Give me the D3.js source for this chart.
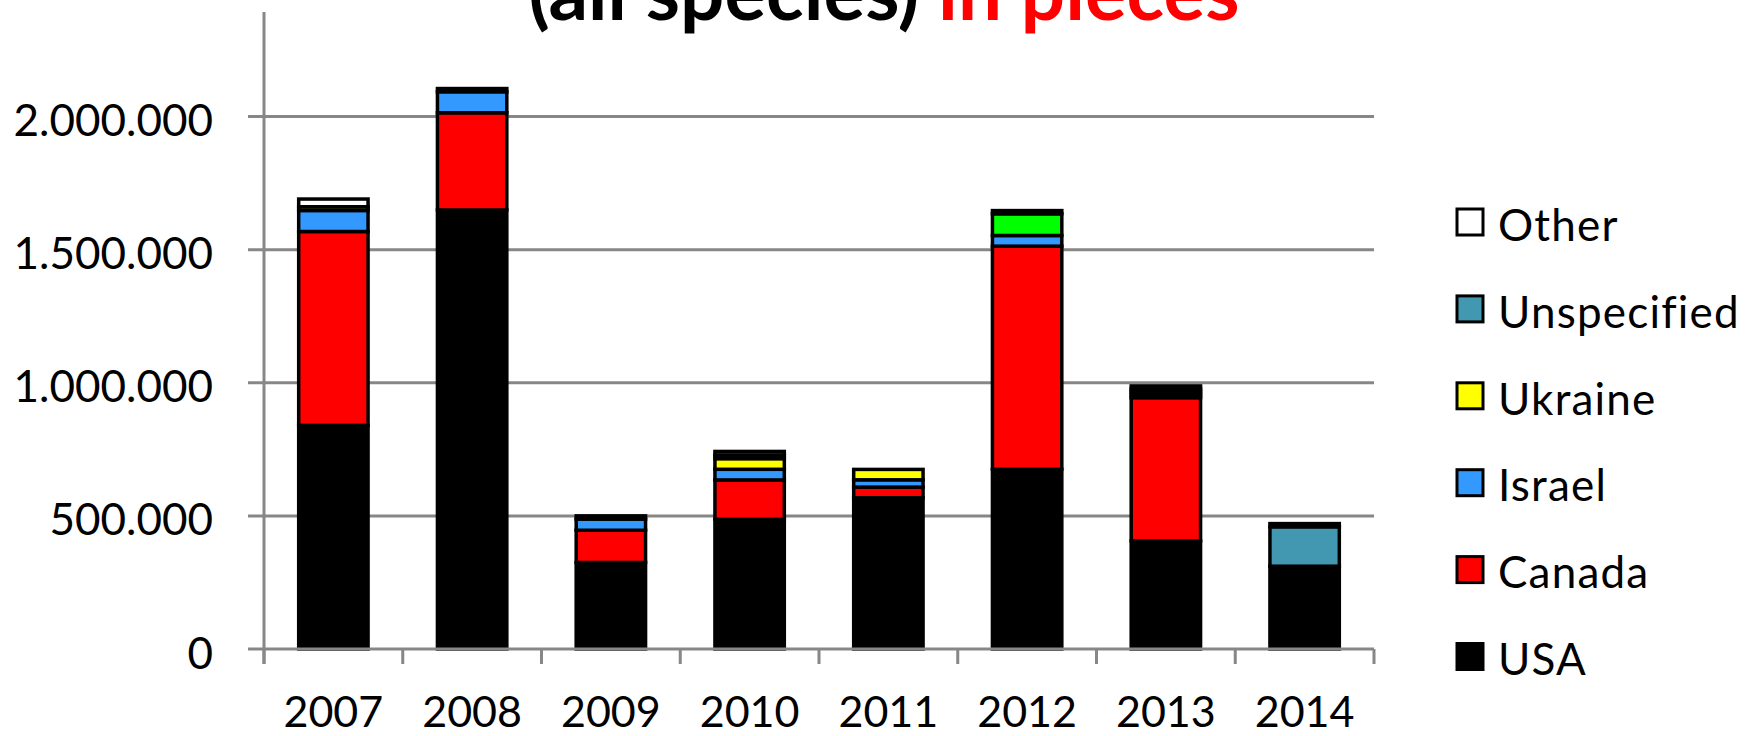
<!DOCTYPE html>
<html>
<head>
<meta charset="utf-8">
<script src="https://cdn.jsdelivr.net/npm/d3@7"></script>
<style>
  html, body { margin: 0; padding: 0; background: #ffffff; }
  svg { display: block; }
  text { font-family: Lato, "Open Sans", sans-serif; }
</style>
</head>
<body>
<svg id="chart" width="1754" height="736"></svg>
<script>
// ---- data (pieces) ----
const years = ["2007", "2008", "2009", "2010", "2011", "2012", "2013", "2014"];
const usa         = [840000, 1649000, 325000, 487000, 568000, 675000, 406000, 311000];
const canada      = [728000,  365000, 121000, 148000,  40000, 838000, 538000,      0];
const israel      = [ 79000,   79000,  42000,  40000,  27500,  40000,  11000,      0];
const ukraine     = [ 14000,       0,      0,  40000,  39000,      0,  11000,      0];
const unlabelled  = [     0,       0,      0,      0,      0,  81600,      0,      0];
const unspecified = [     0,       0,      0,  13500,      0,      0,  11000, 148000];
const other       = [ 29000,   12000,  12000,  13500,      0,  12000,  11000,  12000];
const yTicks = [0, 500000, 1000000, 1500000, 2000000];
const legendNames = ["Other", "Unspecified", "Ukraine", "Israel", "Canada", "USA"];
const titleBlack = "(all species) ";
const titleRed = "in pieces";

const seriesKeys = ["USA", "Canada", "Israel", "Ukraine", "Unlabelled", "Unspecified", "Other"];
const seriesValues = {
  "USA": usa, "Canada": canada, "Israel": israel, "Ukraine": ukraine,
  "Unlabelled": unlabelled, "Unspecified": unspecified, "Other": other
};
const colors = {
  "USA": "#000000", "Canada": "#ff0000", "Israel": "#3399ff", "Ukraine": "#ffff00",
  "Unlabelled": "#00ff00", "Unspecified": "#4298b0", "Other": "#ffffff"
};

const table = years.map((yr, i) => {
  const row = { year: yr };
  seriesKeys.forEach(k => row[k] = seriesValues[k][i]);
  return row;
});

const svg = d3.select("#chart");
const plotLeft = 264, plotRight = 1374, plotBottom = 649, plotTop = 10;

const x = d3.scaleBand().domain(years).range([plotLeft, plotRight]).paddingInner(0.5).paddingOuter(0.25);
const y = d3.scaleLinear().domain([0, 2400000]).range([plotBottom, plotTop]);

const fmt = d3.formatLocale({ decimal: ",", thousands: ".", grouping: [3], currency: ["", ""] }).format(",d");
const gridColor = "#878787";

// gridlines + y ticks
svg.append("g").selectAll("line").data(yTicks.filter(v => v > 0)).join("line")
  .attr("x1", plotLeft - 16).attr("x2", plotRight)
  .attr("y1", d => y(d)).attr("y2", d => y(d))
  .attr("stroke", gridColor).attr("stroke-width", 3);

// bars
const stacked = d3.stack().keys(seriesKeys)(table);
const barG = svg.append("g");
stacked.forEach(layer => {
  barG.append("g").selectAll("rect")
    .data(layer.filter(d => d[1] - d[0] > 0))
    .join("rect")
    .attr("x", d => x(d.data.year))
    .attr("width", x.bandwidth())
    .attr("y", d => y(d[1]))
    .attr("height", d => y(d[0]) - y(d[1]))
    .attr("fill", colors[layer.key])
    .attr("stroke", "#000")
    .attr("stroke-width", 3.5);
});

// y axis line
svg.append("line").attr("x1", plotLeft).attr("x2", plotLeft)
  .attr("y1", y(2400000) + 2).attr("y2", plotBottom + 15)
  .attr("stroke", gridColor).attr("stroke-width", 3);
// zero line with tick
svg.append("line").attr("x1", plotLeft - 16).attr("x2", plotRight)
  .attr("y1", y(0)).attr("y2", y(0))
  .attr("stroke", gridColor).attr("stroke-width", 3);
// x ticks at category boundaries
const bounds = years.map(d => x(d) - x.step() * x.paddingInner() / 2).concat([plotRight]);
svg.append("g").selectAll("line").data(bounds).join("line")
  .attr("x1", d => d).attr("x2", d => d)
  .attr("y1", plotBottom).attr("y2", plotBottom + 15)
  .attr("stroke", gridColor).attr("stroke-width", 3);

// y labels
svg.append("g").selectAll("text").data(yTicks).join("text")
  .attr("x", 213).attr("y", d => y(d) + 19.5)
  .attr("text-anchor", "end")
  .attr("font-size", 44).attr("fill", "#000")
  .text(d => fmt(d));

// x labels
svg.append("g").selectAll("text").data(years).join("text")
  .attr("x", d => x(d) + x.bandwidth() / 2).attr("y", 727)
  .attr("text-anchor", "middle")
  .attr("font-size", 43).attr("fill", "#000")
  .text(d => d);

// legend
const lg = svg.append("g");
legendNames.forEach((name, i) => {
  const by = 240.7 + i * 86.9;
  lg.append("rect").attr("x", 1457).attr("y", by - 18.7 - 13)
    .attr("width", 26).attr("height", 26)
    .attr("fill", colors[name]).attr("stroke", "#000").attr("stroke-width", 3);
  lg.append("text").attr("x", 1498).attr("y", by)
    .attr("font-size", 44).attr("letter-spacing", 1.2).attr("fill", "#000")
    .text(name);
});

// title (cut off at top)
const title = svg.append("text").attr("x", 884).attr("y", 20)
  .attr("text-anchor", "middle").attr("font-weight", "bold").attr("font-size", 78);
title.append("tspan").attr("fill", "#000").text(titleBlack);
title.append("tspan").attr("fill", "#ff0000").text(titleRed);
</script>
</body>
</html>
